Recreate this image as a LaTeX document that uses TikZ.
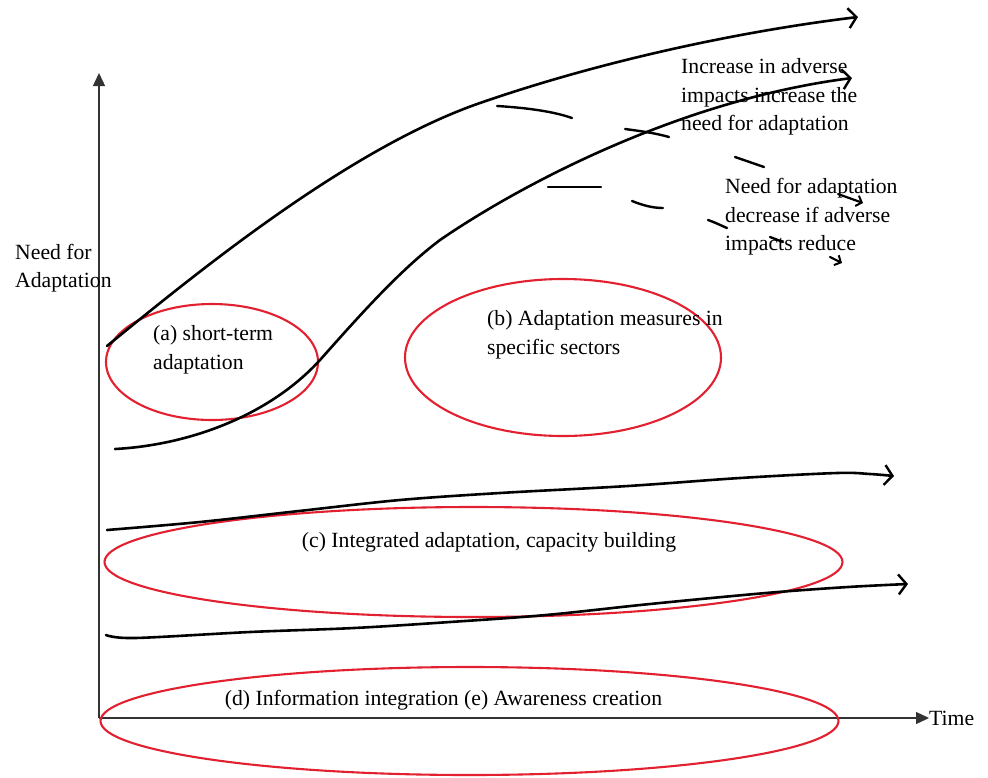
\documentclass[tikz,border=0pt]{standalone}
\usepackage{fontspec}
\setmainfont{Liberation Serif}
\usetikzlibrary{arrows.meta,shapes.geometric}
\definecolor{ovalred}{RGB}{226,32,48}
\begin{document}
\begin{tikzpicture}[x=1pt,y=-1pt,
  axis/.style={line width=1.4pt, draw=black!80, -{Triangle[length=13pt,width=12pt]}},
  curve/.style={line width=2.6pt, line cap=round, line join=round,
    -{Straight Barb[length=8pt,width=20pt,line width=2.4pt]}},
  dashpiece/.style={line width=2.4pt, line cap=round},
  dasharrow/.style={line width=2.2pt, line cap=round,
    -{Straight Barb[length=5pt,width=11pt,line width=2pt]}},
  oval/.style={ellipse, draw=ovalred, line width=2.1pt, inner sep=0pt},
  label/.style={font=\fontsize{21.7}{28.6}\selectfont, inner sep=0pt, align=left},
]
\useasboundingbox (0,0) rectangle (988,777);

% axes
\coordinate (O) at (99,718);
\coordinate (ytop) at (99,73);
\node[label, anchor=west] (time) at (929,718) {Time};
\draw[axis] (O) -- (ytop);
\draw[axis] (O) -- (time.west);

% red ellipses
\node[oval, minimum width=212pt, minimum height=116pt] (ova) at (212,362) {};
\node[oval, minimum width=316pt, minimum height=157pt] (ovb) at (563,357.5) {};
\node[oval, minimum width=738pt, minimum height=110pt] (ovc) at (473.5,562) {};
\node[oval, minimum width=738pt, minimum height=108pt] (ovd) at (469.5,721) {};

% text
\node[label, anchor=west] (ylab) at (15,268) {Need for\\Adaptation};
\node[label, anchor=west] (la) at (153,350) {(a) short-term\\adaptation};
\node[label, anchor=west] (lb) at (487,334.5) {(b) Adaptation measures in\\specific sectors};
\node[label, anchor=west] (linc) at (681,97) {Increase in adverse\\impacts increase the\\need for adaptation};
\node[label, anchor=west] (ldec) at (725,217) {Need for adaptation\\decrease if adverse\\impacts reduce};
\node[label] (lc) at (489,542) {(c) Integrated adaptation, capacity building};
\node[label] (ld) at (443.5,700) {(d) Information integration (e) Awareness creation};

% trend curves
\draw[curve] (107,346) .. controls (200,270) and (350,148) .. (480,103)
  .. controls (610,58) and (750,30) .. (858,17);
\draw[curve] (115,449) .. controls (190,445) and (270,415) .. (320,360)
  .. controls (360,315) and (400,270) .. (440,240)
  .. controls (520,185) and (680,100) .. (852,78);
\draw[curve] plot[smooth, tension=0.55] coordinates {
  (107,530) (200,522) (299,511) (400,500) (500,493) (628,486) (740,478)
  (837,473) (870,474) (894,476)};
\draw[curve] plot[smooth, tension=0.55] coordinates {
  (106,635) (135,638) (250,632) (354,628) (450,622) (546,615) (650,604)
  (766,593) (848,587) (908,584)};

% dashed trend: increasing adverse impacts
\draw[dashpiece] (497,106) .. controls (530,108) and (555,112) .. (572,118);
\draw[dashpiece] (625,129) .. controls (640,131) and (655,133) .. (669,137);
\draw[dashpiece] (735,157) -- (764,167);
\draw[dasharrow] (838,194) -- (863,203);

% dashed trend: reducing adverse impacts
\draw[dashpiece] (548,187) -- (601,187);
\draw[dashpiece] (632,201) .. controls (642,205) and (652,208) .. (663,208);
\draw[dashpiece] (708,220) .. controls (714,222) and (720,225) .. (727,228);
\draw[dashpiece] (770,237) -- (783,242);
\draw[dasharrow] (830,257) -- (842,263);
\end{tikzpicture}
\end{document}
